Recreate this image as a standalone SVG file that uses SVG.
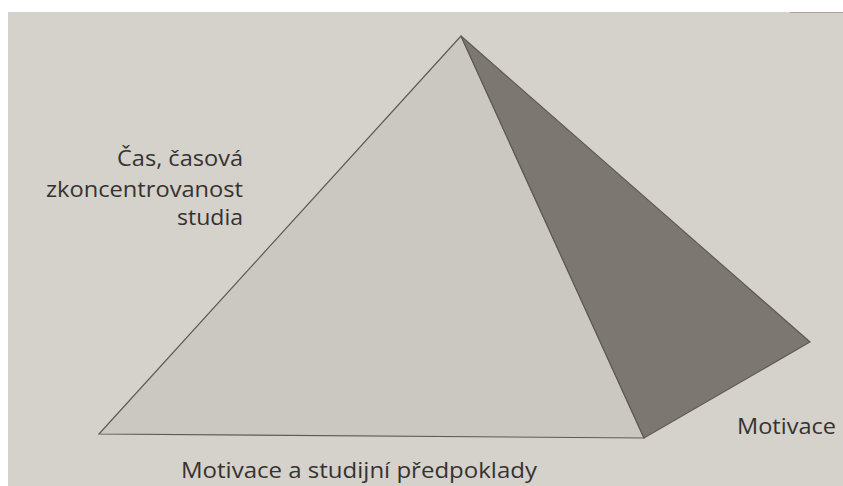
<svg xmlns="http://www.w3.org/2000/svg" width="843" height="486" viewBox="0 0 843 486">
  <style>
    .lbl { font-family: "Open Sans", "Noto Sans", "Liberation Sans", sans-serif; font-size: 22px; fill: #353331; }
    .edge { stroke: #5e5a55; stroke-width: 1.2; stroke-linejoin: miter; }
  </style>
  <rect x="0" y="0" width="843" height="486" fill="#ffffff"/>
  <rect x="8" y="12" width="835" height="474" fill="#d5d1cb"/>
  <line x1="790" y1="12.5" x2="843" y2="12.5" stroke="#aaa69f" stroke-width="1"/>
  <g id="pyramid">
    <polygon id="front-face" class="edge" points="461,36 99,434 644,438" fill="#cbc8c2"/>
    <polygon id="side-face" class="edge" points="461,36 644,438 810,342" fill="#7c7770"/>
  </g>
  <g id="label-cas">
    <text class="lbl" x="117" y="166" textLength="126" lengthAdjust="spacingAndGlyphs">Čas, časová</text>
    <text class="lbl" x="46" y="197" textLength="197" lengthAdjust="spacingAndGlyphs">zkoncentrovanost</text>
    <text class="lbl" x="177" y="225" textLength="66" lengthAdjust="spacingAndGlyphs">studia</text>
  </g>
  <g id="label-motivace">
    <text class="lbl" x="737" y="434" textLength="99" lengthAdjust="spacingAndGlyphs">Motivace</text>
  </g>
  <g id="label-base">
    <text class="lbl" x="181" y="478" textLength="356" lengthAdjust="spacingAndGlyphs">Motivace a studijní předpoklady</text>
  </g>
</svg>
